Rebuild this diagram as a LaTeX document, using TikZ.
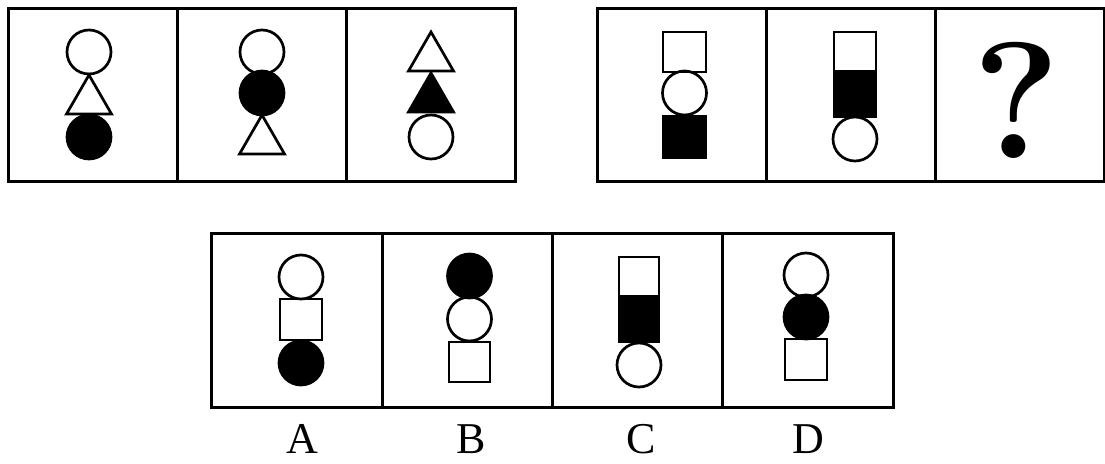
\documentclass[tikz,border=0pt]{standalone}
\usepackage{fontspec}
\setmainfont{Liberation Serif}
\newfontfamily\lmfont{Latin Modern Roman}
\usetikzlibrary{shapes.geometric}
\begin{document}
\begin{tikzpicture}[x=1pt, y=-1pt,
  panel/.style={draw, line width=3pt, minimum width=169pt, minimum height=173pt, inner sep=0},
  wc/.style={circle, draw, line width=2.7pt, minimum size=44pt, inner sep=0},
  bc/.style={wc, fill=black},
  wsq/.style={rectangle, draw, line width=2.7pt, inner sep=0},
  bsq/.style={wsq, fill=black},
  wtri/.style={regular polygon, regular polygon sides=3, draw, line width=2.7pt, minimum size=52pt, inner sep=0},
  btri/.style={wtri, fill=black},
  lab/.style={anchor=base, inner sep=0, font=\fontsize{44}{44}\selectfont}]
\useasboundingbox (0,0) rectangle (1105,463);
% first row
\node[panel] (p1) at (92.5,94.5){};
\node[panel] (p2) at (261.5,94.5){};
\node[panel] (p3) at (430.5,94.5){};
\node[wc] (p1a) at (89,52){};
\node[wtri] (p1b) at (89,101){};
\node[bc] (p1c) at (89,137){};
\node[wc] (p2a) at (262,52){};
\node[bc] (p2b) at (262,93){};
\node[wtri] (p2c) at (262,141){};
\node[wtri] (p3a) at (431,58){};
\node[btri] (p3b) at (431,99){};
\node[wc] (p3c) at (431,137){};
% second row
\node[panel] (p4) at (681.5,94.5){};
\node[panel] (p5) at (850.5,94.5){};
\node[panel] (p6) at (1019.5,94.5){};
\node[wsq, minimum width=43pt, minimum height=40pt] (p4a) at (684.5,52){};
\node[wc] (p4b) at (684.5,93){};
\node[bsq, minimum width=43pt, minimum height=42pt] (p4c) at (684.5,137){};
\node[wsq, minimum width=42pt, minimum height=39pt] (p5a) at (855,51.5){};
\node[bsq, minimum width=42pt, minimum height=46pt] (p5b) at (855,94){};
\node[wc] (p5c) at (855,139){};
\node[lab, font=\fontsize{166}{166}\lmfont\bfseries] (p6q) at (1017,158){?};
% options
\node[panel, minimum width=170.25pt, minimum height=174pt] (oa) at (297.1,320){};
\node[panel, minimum width=170.25pt, minimum height=174pt] (ob) at (467.4,320){};
\node[panel, minimum width=170.25pt, minimum height=174pt] (oc) at (637.6,320){};
\node[panel, minimum width=170.25pt, minimum height=174pt] (od) at (807.9,320){};
\node[wc] (oa1) at (301,277){};
\node[wsq, minimum width=42pt, minimum height=41pt] (oa2) at (301,319.5){};
\node[bc] (oa3) at (301,363){};
\node[bc] (ob1) at (469.5,276){};
\node[wc] (ob2) at (469.5,319){};
\node[wsq, minimum width=41pt, minimum height=40pt] (ob3) at (469.5,362){};
\node[wsq, minimum width=40pt, minimum height=39pt] (oc1) at (639,276.5){};
\node[bsq, minimum width=40pt, minimum height=46pt] (oc2) at (639,319){};
\node[wc] (oc3) at (639,365){};
\node[wc] (od1) at (806,275){};
\node[bc] (od2) at (806,317){};
\node[wsq, minimum width=42pt, minimum height=41pt] (od3) at (806,359.5){};
\node[lab] (la) at (302,453){A};
\node[lab] (lb) at (471,453){B};
\node[lab] (lc) at (641,453){C};
\node[lab] (ld) at (808,453){D};
\end{tikzpicture}
\end{document}
